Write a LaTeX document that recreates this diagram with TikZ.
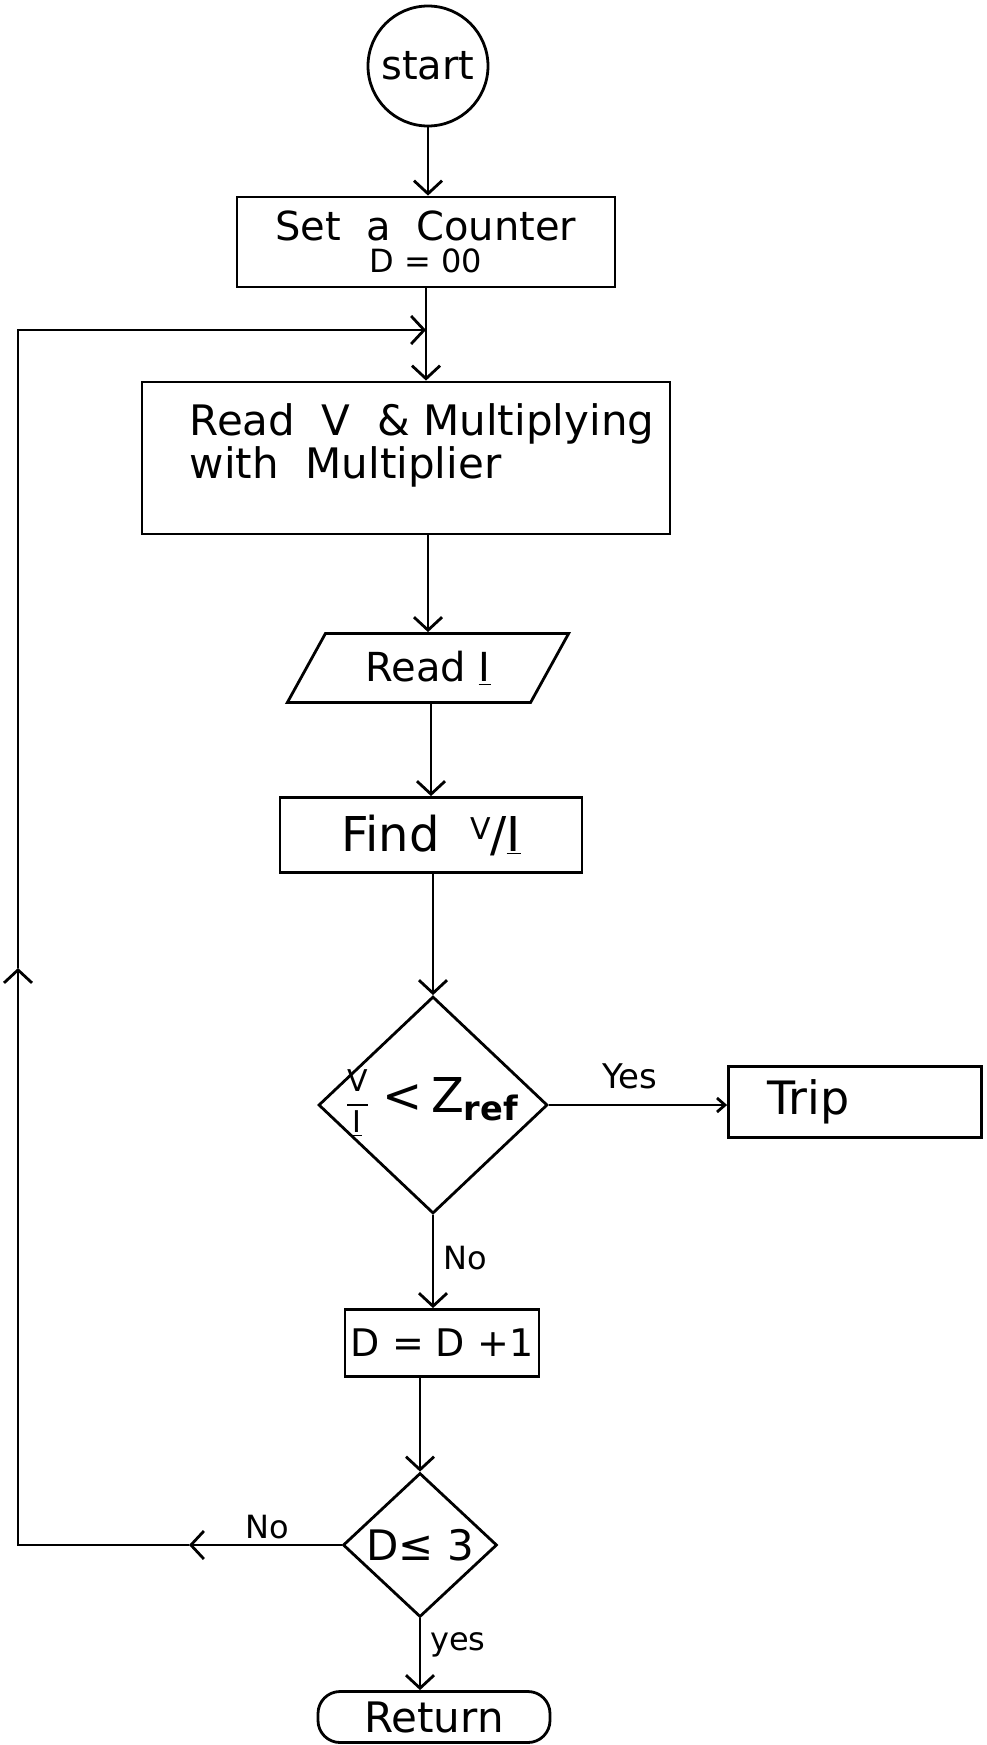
\documentclass[tikz,border=0pt]{standalone}
\usepackage{fontspec}
\setmainfont{DejaVu Sans}
\usetikzlibrary{shapes.geometric,arrows.meta}

\begin{document}
\begin{tikzpicture}[x=0.5pt,y=-0.5pt,
  every node/.style={font=\fontsize{20}{20}\selectfont},
  flow/.style={line width=1.4pt},
  arr/.style={flow,-{Straight Barb[length=6.5pt,width=14pt]}},
  smallarr/.style={flow,-{Straight Barb[length=4pt,width=7pt]}},
  box/.style={draw,line width=1.4pt,rectangle,inner sep=0pt},
  decision/.style={draw,diamond,line width=1.4pt,inner sep=0pt},
]
\fill[white] (0,0) rectangle (986,1745);
\useasboundingbox (0,0) rectangle (986,1745);

% process blocks
\node[draw,circle,line width=1.4pt,minimum size=60pt,inner sep=0pt] (start) at (428,66) {start};
\node[box,minimum width=189pt,minimum height=45pt,align=center] (set) at (426,242)
  {Set\ \ a\ \ Counter\\[-4pt]{\fontsize{16}{16}\selectfont D = 00}};
\node[box,minimum width=264pt,minimum height=76pt,
  label={[anchor=north west,align=left,xshift=21pt,yshift=-8pt,font=\fontsize{21}{18.5}\selectfont]north west:Read\ \ V\ \ \&\ Multiplying\\with\ \ Multiplier}]
  (read) at (406,458) {};
\node[draw,line width=1.4pt,trapezium,trapezium left angle=56,trapezium right angle=124,
  trapezium stretches=true,minimum width=141.5pt,minimum height=34.5pt,inner sep=0pt]
  (para) at (428,668) {Read \underline{I}};
\node[box,minimum width=151pt,minimum height=37.5pt,font=\fontsize{24}{24}\selectfont] (find) at (431,835)
  {Find\ \ \raisebox{0.45ex}{\fontsize{15}{15}\selectfont V}/\underline{I}};
\node[decision,minimum width=114.5pt,minimum height=108.5pt,
  label={center:{\fontsize{24}{24}\selectfont
    {\fontsize{15}{17}\selectfont\setlength{\arrayrulewidth}{1.2pt}\begin{tabular}{@{}c@{}}V\\[1pt]\hline\rule{0pt}{13pt}\underline{I}\end{tabular}}%
    \ <\,Z\textsubscript{\bfseries ref}}}]
  (dia1) at (433,1105) {};
\node[box,minimum width=126.5pt,minimum height=35.5pt,text width=87.5pt,align=left,
  font=\fontsize{23}{23}\selectfont] (trip) at (855,1102) {Trip};
\node[box,minimum width=97pt,minimum height=33.5pt,font=\fontsize{19}{19}\selectfont] (dpp) at (442,1343) {D = D +1};
\node[decision,minimum width=77pt,minimum height=72pt,
  label={center:{\fontsize{21}{21}\selectfont D≤ 3}}] (dia2) at (420,1545) {};
\node[draw,line width=1.4pt,rectangle,rounded corners=11pt,minimum width=116pt,minimum height=25.5pt,
  inner sep=0pt,font=\fontsize{21}{21}\selectfont] (ret) at (434,1717) {Return};

% branch labels
\node[font=\fontsize{17}{17}\selectfont] (yes1) at (630,1076) {Yes};
\node[font=\fontsize{16}{16}\selectfont] (no1) at (465,1258) {No};
\node[font=\fontsize{16}{16}\selectfont] (no2) at (267,1527) {No};
\node[font=\fontsize{16}{16}\selectfont] (yes2) at (458,1645) {yes};

% main flow
\draw[arr] (start.south) -- (start.south |- set.north);
\draw[arr] (set.south) -- (set.south |- read.north);
\draw[arr] (para.north |- read.south) -- (para.north);
\draw[arr] (find.north |- para.south) -- (find.north);
\draw[arr] (dia1.north |- find.south) -- (dia1.north);
\draw[smallarr] (dia1.east) -- (dia1.east -| trip.west);
\draw[arr] (dia1.south) -- (dia1.south |- dpp.north);
\draw[arr] (dia2.north |- dpp.south) -- (dia2.north);
\draw[arr] (dia2.south) -- (dia2.south |- ret.north);

% loop back to the reading step
\coordinate (leftmid) at (189,1545);
\coordinate (lowcorner) at (18,1545);
\coordinate (upmid) at (18,968);
\coordinate (topcorner) at (18,330);
\draw[arr] (dia2.west) -- (leftmid);
\draw[arr] (leftmid) -- (lowcorner) -- (upmid);
\draw[arr] (upmid) -- (topcorner) -- (topcorner -| set.south);
\end{tikzpicture}
\end{document}
